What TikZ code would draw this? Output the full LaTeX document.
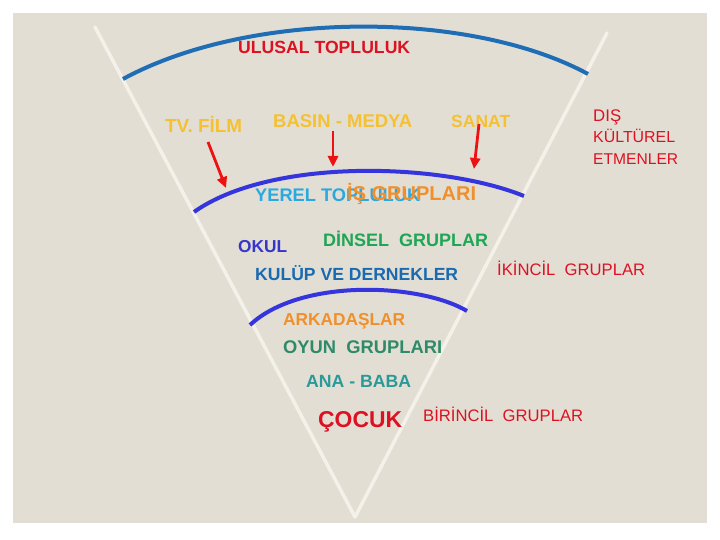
\documentclass[tikz,border=0pt]{standalone}
\usepackage{fontspec}
\usepackage{graphicx}
\setmainfont{Liberation Sans}
\usetikzlibrary{arrows.meta}
\definecolor{bgbeige}{HTML}{E3DED4}
\definecolor{wedgecol}{HTML}{F4F1EA}
\definecolor{topblue}{HTML}{1F6DB5}
\definecolor{arcviolet}{HTML}{3535DD}
\definecolor{txred}{HTML}{DD1122}
\definecolor{txgold}{HTML}{F5C131}
\definecolor{txlblue}{HTML}{2AA8E0}
\definecolor{txorange}{HTML}{F0902C}
\definecolor{txokul}{HTML}{3636C8}
\definecolor{txgreen}{HTML}{1FA556}
\definecolor{txkulup}{HTML}{1A6AB0}
\definecolor{txoyun}{HTML}{2E8A68}
\definecolor{txana}{HTML}{2A9A98}
\definecolor{arrred}{HTML}{EE1111}
\newcommand\fitw[2]{\resizebox{#1pt}{!}{#2}}
\begin{document}
\begin{tikzpicture}[x=1pt,y=-1pt,
  lbl/.style={anchor=base west,inner sep=0pt,font=\bfseries\fontsize{16}{18}\selectfont},
  rlbl/.style={anchor=base west,inner sep=0pt,font=\fontsize{16}{18}\selectfont},
  wedge/.style={draw=wedgecol,line width=3.5pt,line join=round,line cap=round},
  toparc/.style={draw=topblue,line width=4pt},
  midarc/.style={draw=arcviolet,line width=4pt},
  redarrow/.style={draw=arrred,line width=2.8pt,-{Triangle[length=11pt,width=10pt]}}]
\useasboundingbox (0,0) rectangle (720,540);
\fill[white] (0,0) rectangle (720,540);
\fill[bgbeige] (13,13) rectangle (707,523);
% wedge
\coordinate (wl) at (95,27);
\coordinate (wv) at (355,517);
\coordinate (wr) at (607,33);
\draw[wedge] (wl) -- (wv) -- (wr);
% arcs
\coordinate (a1l) at (123,79);
\coordinate (a1r) at (588,74);
\draw[toparc] (a1l) .. controls (250,10) and (470,10) .. (a1r);
\coordinate (a2l) at (194,212);
\coordinate (a2r) at (524,196);
\draw[midarc] (a2l) .. controls (270,158) and (440,162) .. (a2r);
\coordinate (a3l) at (250,325);
\coordinate (a3r) at (467,311);
\draw[midarc] (a3l) .. controls (300,278) and (420,283) .. (a3r);
% texts
\node[lbl,text=txred] (ulusal) at (238,54) {\fitw{172}{ULUSAL TOPLULUK}};
\node[lbl,text=txgold] (tv) at (165,133) {\fitw{77}{TV. FİLM}};
\node[lbl,text=txgold] (basin) at (273,128) {\fitw{139}{BASIN - MEDYA}};
\node[lbl,text=txgold] (sanat) at (451,128) {\fitw{59}{SANAT}};
\node[rlbl,text=txred] (dis1) at (593,122) {\fitw{28}{DIŞ}};
\node[rlbl,text=txred] (dis2) at (593,143) {\fitw{82}{KÜLTÜREL}};
\node[rlbl,text=txred] (dis3) at (593,165) {\fitw{85}{ETMENLER}};
\node[lbl,text=txlblue] (yerel) at (255,201) {\fitw{165}{YEREL TOPLULUK}};
\node[lbl,text=txorange] (is) at (347,201) {\fitw{129}{İŞ GRUPLARI}};
\node[lbl,text=txokul] (okul) at (238,252) {\fitw{49}{OKUL}};
\node[lbl,text=txgreen] (dinsel) at (323,247) {\fitw{165}{DİNSEL\ \ GRUPLAR}};
\node[lbl,text=txkulup] (kulup) at (255,280) {\fitw{203}{KULÜP VE DERNEKLER}};
\node[rlbl,text=txred] (ikincil) at (497,276) {\fitw{148}{İKİNCİL\ \ GRUPLAR}};
\node[lbl,text=txorange] (arkadas) at (283,325) {\fitw{122}{ARKADAŞLAR}};
\node[lbl,text=txoyun] (oyun) at (283,353) {\fitw{159}{OYUN\ \ GRUPLARI}};
\node[lbl,text=txana] (ana) at (306,387) {\fitw{105}{ANA - BABA}};
\node[lbl,text=txred] (cocuk) at (318,427) {\fitw{84}{ÇOCUK}};
\node[rlbl,text=txred] (birincil) at (423,421) {\fitw{160}{BİRİNCİL\ \ GRUPLAR}};
% arrows
\coordinate (ar1s) at (208,142);
\coordinate (ar1e) at (226,188);
\coordinate (ar2s) at (333,131);
\coordinate (ar2e) at (333,167);
\coordinate (ar3s) at (479,124);
\coordinate (ar3e) at (474,169);
\draw[redarrow] (ar1s) -- (ar1e);
\draw[redarrow] (ar2s) -- (ar2e);
\draw[redarrow] (ar3s) -- (ar3e);
\end{tikzpicture}
\end{document}
